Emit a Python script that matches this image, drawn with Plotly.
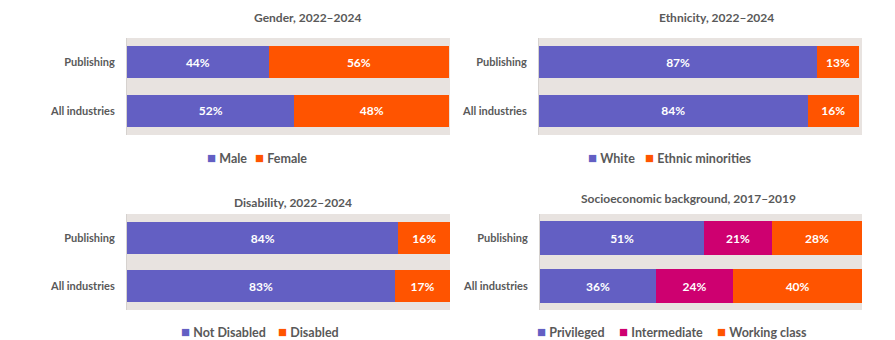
import plotly.graph_objects as go

W, H = 895, 340

# ---- data -------------------------------------------------------------
categories = ["Publishing", "All industries"]

gender_male = [44, 52]
gender_female = [56, 48]

ethnicity_white = [87, 84]
ethnicity_minorities = [13, 16]

disability_not = [84, 83]
disability_yes = [16, 17]

socio_privileged = [51, 36]
socio_intermediate = [21, 24]
socio_working = [28, 40]

PURPLE = "#635FC3"
ORANGE = "#FF5400"
MAGENTA = "#CE0070"
BG = "#E8E3E0"
GREY_TEXT = "#595959"
FONT = "Lato"

# ---- panel geometry (pixels) -----------------------------------------
panels = [
    dict(ax="", x0=127, x1=450, y0=38, y1=135, xmax=100.3, bw=0.66),
    dict(ax="2", x0=539, x1=862, y0=38, y1=135, xmax=101.0, bw=0.66),
    dict(ax="3", x0=127, x1=450, y0=214, y1=310, xmax=100.0, bw=0.67),
    dict(ax="4", x0=540, x1=862, y0=214, y1=310, xmax=100.0, bw=0.69),
]

series = [
    [("Male", gender_male, PURPLE), ("Female", gender_female, ORANGE)],
    [("White", ethnicity_white, PURPLE), ("Ethnic minorities", ethnicity_minorities, ORANGE)],
    [("Not Disabled", disability_not, PURPLE), ("Disabled", disability_yes, ORANGE)],
    [("Privileged", socio_privileged, PURPLE), ("Intermediate", socio_intermediate, MAGENTA),
     ("Working class", socio_working, ORANGE)],
]

titles = [
    ("Gender, 2022–2024", 307, 17),
    ("Ethnicity, 2022–2024", 716, 17),
    ("Disability, 2022–2024", 293, 202),
    ("Socioeconomic background, 2017–2019", 688, 198),
]

# legend item left positions (square start) and vertical centre
legend_pos = [
    ([205, 253], 157),
    ([586, 643], 157),
    ([179, 276], 331),
    ([535, 617, 715], 331),
]

fig = go.Figure()
layout = dict(
    width=W, height=H,
    margin=dict(l=0, r=0, t=0, b=0),
    paper_bgcolor="white",
    plot_bgcolor=BG,
    barmode="stack",
    showlegend=False,
    font=dict(family=FONT, color=GREY_TEXT),
)

annotations = []

for p, ser in zip(panels, series):
    ax = p["ax"]
    for name, vals, color in ser:
        fig.add_trace(go.Bar(
            x=vals, y=categories, orientation="h", name=name,
            marker=dict(color=color, line=dict(width=0)),
            width=p["bw"],
            text=[f"{v}%" for v in vals],
            textposition="inside", insidetextanchor="middle",
            textfont=dict(family=FONT, size=12, color="white", weight="bold"),
            constraintext="none",
            xaxis="x" + ax, yaxis="y" + ax,
            hoverinfo="skip",
        ))
    layout["xaxis" + ax] = dict(
        domain=[p["x0"] / W, p["x1"] / W],
        range=[0, p["xmax"]],
        showticklabels=False, showgrid=False, zeroline=False,
        anchor="y" + ax, fixedrange=True,
    )
    layout["yaxis" + ax] = dict(
        domain=[1 - p["y1"] / H, 1 - p["y0"] / H],
        autorange="reversed",
        showgrid=False, zeroline=False,
        showline=True, linecolor="#D6D2CF", linewidth=1,
        ticks="outside", ticklen=9, tickcolor="rgba(0,0,0,0)",
        tickfont=dict(family=FONT, size=11, color=GREY_TEXT, weight="bold"),
        anchor="x" + ax, fixedrange=True,
    )

for text, cx, cy in titles:
    annotations.append(dict(
        text=f"<b>{text}</b>", x=cx / W, y=1 - cy / H,
        xref="paper", yref="paper", xanchor="center", yanchor="middle",
        showarrow=False, font=dict(family=FONT, size=12, color=GREY_TEXT),
    ))

for ser, (xs, cy) in zip(series, legend_pos):
    for (name, _, color), lx in zip(ser, xs):
        annotations.append(dict(
            text=(f"<span style='color:{color};font-size:15px'>■</span>"
                  f" <b>{name}</b>"),
            x=lx / W, y=1 - cy / H,
            xref="paper", yref="paper", xanchor="left", yanchor="middle",
            showarrow=False, font=dict(family=FONT, size=12.5, color=GREY_TEXT),
        ))

layout["annotations"] = annotations
fig.update_layout(**layout)
fig.write_html("out.html")
